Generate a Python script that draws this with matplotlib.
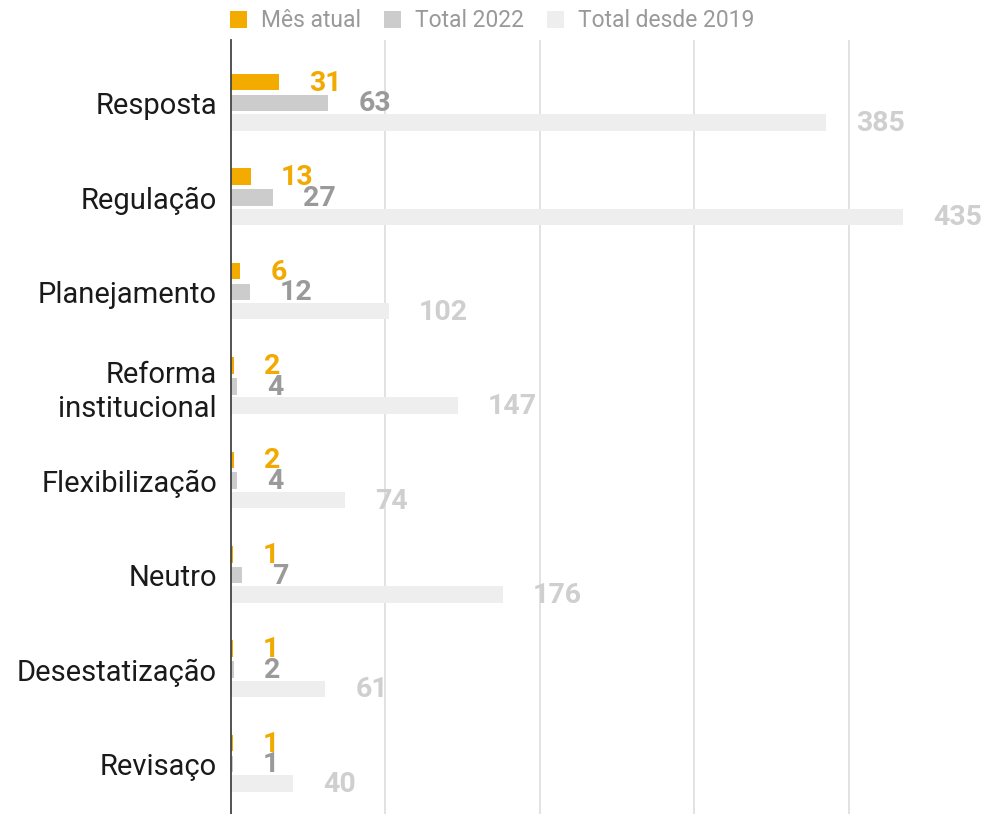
import matplotlib
matplotlib.use('Agg')
import matplotlib.pyplot as plt
from matplotlib.patches import Patch

plt.rcParams['font.family'] = ['Roboto', 'DejaVu Sans']

# Data
categorias = ['Resposta', 'Regulação', 'Planejamento', 'Reforma\ninstitucional',
              'Flexibilização', 'Neutro', 'Desestatização', 'Revisaço']
mes_atual = [31, 13, 6, 2, 2, 1, 1, 1]
total_2022 = [63, 27, 12, 4, 4, 7, 2, 1]
total_desde_2019 = [385, 435, 102, 147, 74, 176, 61, 40]

series = [
    ('Mês atual', mes_atual, '#F4AB00', '#F2A900', -0.22),
    ('Total 2022', total_2022, '#CCCCCC', '#9A9A9A', 0.0),
    ('Total desde 2019', total_desde_2019, '#EEEEEE', '#CFCFCF', 0.205),
]

fig = plt.figure(figsize=(9.94, 8.14), dpi=100)
ax = fig.add_axes([231 / 994, 0, 1 - 231 / 994, 1 - 40 / 814])

ys = list(range(len(categorias)))
for nome, vals, cor, cor_txt, off in series:
    pos = [y + off for y in ys]
    ax.barh(pos, vals, height=0.175, color=cor, zorder=3)
    for p, v in zip(pos, vals):
        ax.annotate(str(v), xy=(v, p), xytext=(30, -1), textcoords='offset pixels',
                    ha='left', va='center', fontsize=20.5, fontweight='bold', color=cor_txt, zorder=4)

ax.set_xlim(0, 494)
ax.set_ylim(7 + 0.53, -0.667)
ax.set_xticks([100, 200, 300, 400])
ax.xaxis.grid(True, color='#DDDDDD', linewidth=1.2, zorder=0)
ax.tick_params(axis='x', length=0, labelbottom=False)
ax.set_yticks(ys)
ax.set_yticklabels(categorias, fontsize=21, color='#1A1A1A', linespacing=1.25)
ax.tick_params(axis='y', length=0, pad=10)
for s in ['top', 'right', 'bottom']:
    ax.spines[s].set_visible(False)
ax.spines['left'].set_color('#444444')
ax.spines['left'].set_linewidth(1.3)
ax.spines['left'].set_zorder(5)

handles = [Patch(facecolor=c, edgecolor='none', label=n) for n, _, c, _, _ in series]
fig.legend(handles=handles, loc='upper center', bbox_to_anchor=(0.495, 1.014), ncol=3,
           frameon=False, fontsize=16.5, labelcolor='#999999', handlelength=0.75, handleheight=0.75,
           handletextpad=0.6, columnspacing=1.0)

plt.savefig('out.png', dpi=100)
